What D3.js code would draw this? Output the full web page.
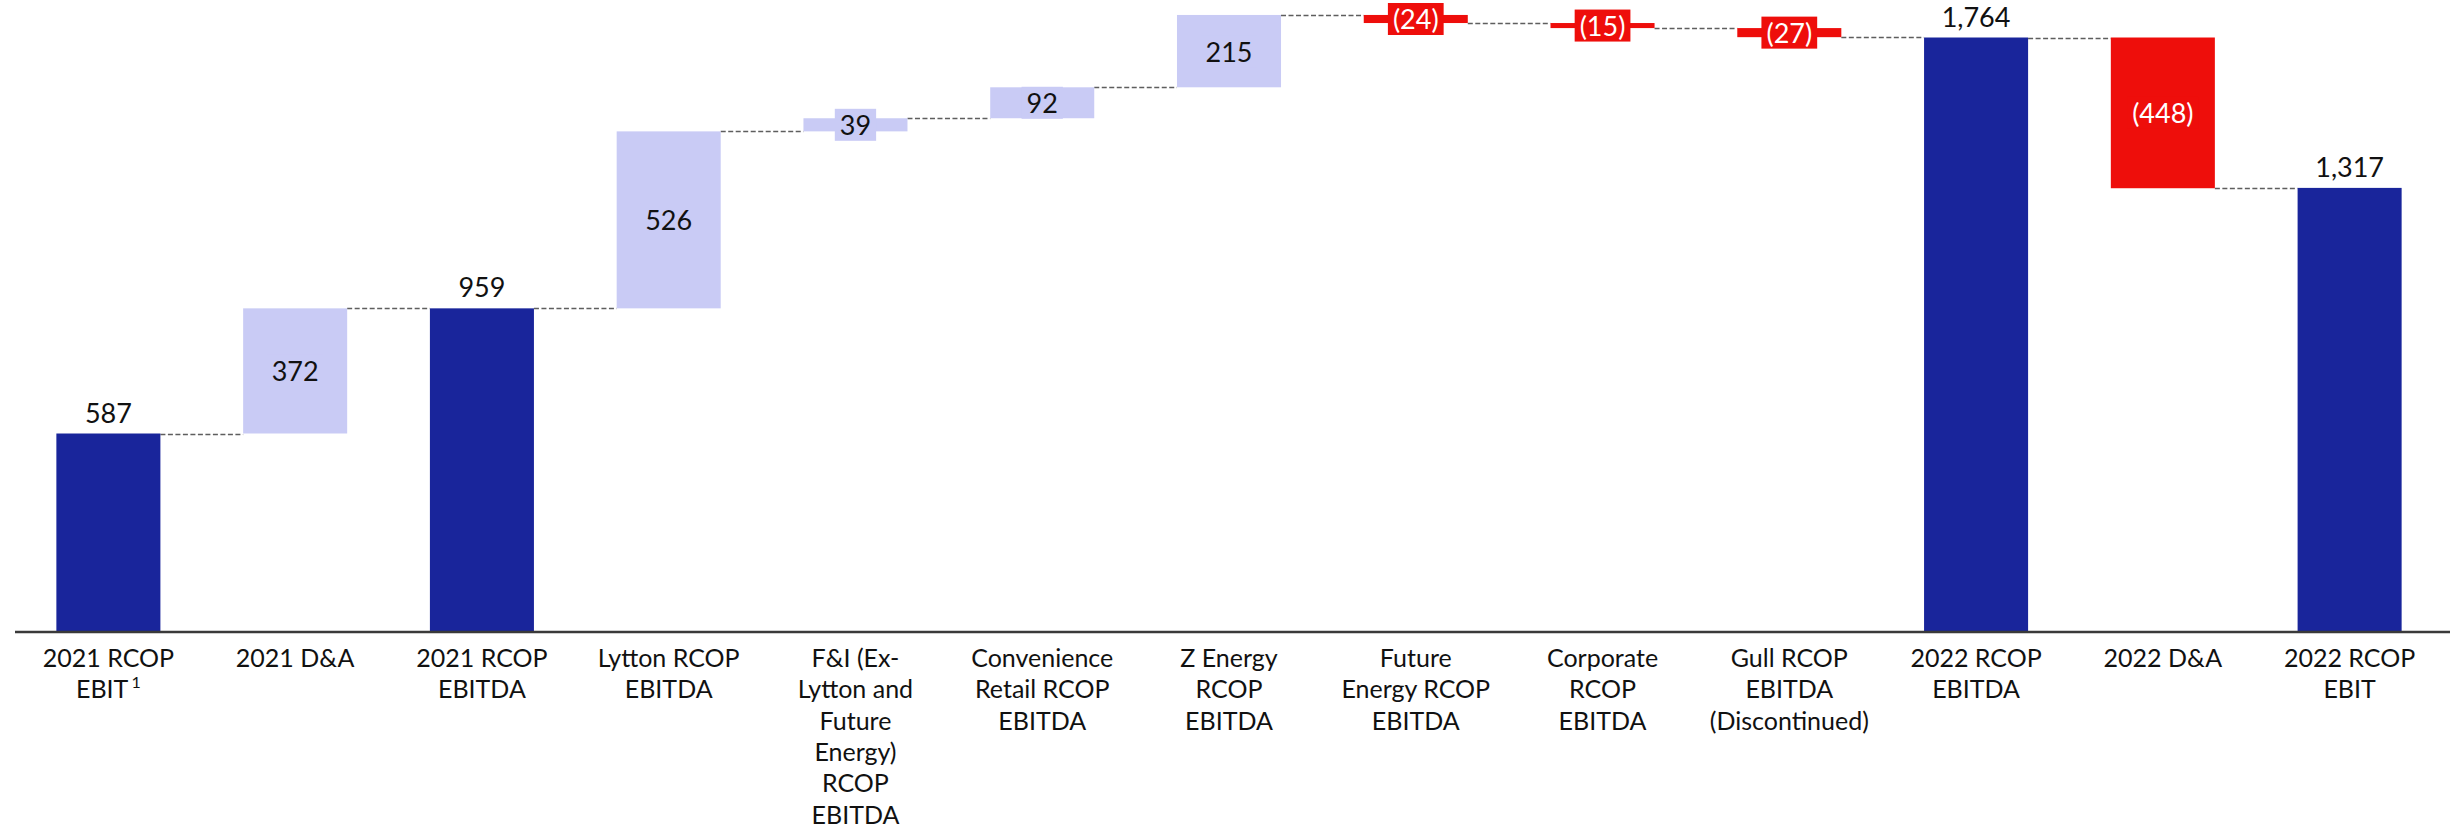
<!DOCTYPE html>
<html>
<head>
<meta charset="utf-8">
<script src="https://cdn.jsdelivr.net/npm/d3@7"></script>
<style>
  html, body { margin: 0; padding: 0; background: #ffffff; }
  svg { display: block; }
  text { font-family: Lato, "Open Sans", sans-serif; }
</style>
</head>
<body>
<svg id="chart" width="2450" height="832"></svg>
<script>
// Bridge from 2021 RCOP EBIT to 2022 RCOP EBIT (NZ$m)
const categories = [
  "2021 RCOP EBIT", "2021 D&A", "2021 RCOP EBITDA", "Lytton RCOP EBITDA",
  "F&I (Ex-Lytton and Future Energy) RCOP EBITDA", "Convenience Retail RCOP EBITDA",
  "Z Energy RCOP EBITDA", "Future Energy RCOP EBITDA", "Corporate RCOP EBITDA",
  "Gull RCOP EBITDA (Discontinued)", "2022 RCOP EBITDA", "2022 D&A", "2022 RCOP EBIT"
];
// Wrapped tick label lines, one array per category
const tickLines = [
  ["2021 RCOP", "EBIT"],
  ["2021 D&A"],
  ["2021 RCOP", "EBITDA"],
  ["Lytton RCOP", "EBITDA"],
  ["F&I (Ex-", "Lytton and", "Future", "Energy)", "RCOP", "EBITDA"],
  ["Convenience", "Retail RCOP", "EBITDA"],
  ["Z Energy", "RCOP", "EBITDA"],
  ["Future", "Energy RCOP", "EBITDA"],
  ["Corporate", "RCOP", "EBITDA"],
  ["Gull RCOP", "EBITDA", "(Discontinued)"],
  ["2022 RCOP", "EBITDA"],
  ["2022 D&A"],
  ["2022 RCOP", "EBIT"]
];
const footnotes = ["1", "", "", "", "", "", "", "", "", "", "", "", ""];
const values = [587, 372, 959, 526, 39, 92, 215, -24, -15, -27, 1764, -448, 1317];
const isTotal = [true, false, true, false, false, false, false, false, false, false, true, false, true];

const COLORS = { total: "#19259b", up: "#c9cbf5", down: "#ee0e0b" };

// Build waterfall segments: totals stand on zero, deltas float from the running level
let level = 0;
const bars = categories.map((c, i) => {
  const v = values[i];
  let y0, y1, kind;
  if (isTotal[i]) { y0 = 0; y1 = v; level = v; kind = "total"; }
  else { y0 = level; y1 = level + v; level = y1; kind = v >= 0 ? "up" : "down"; }
  return { cat: c, i, v, y0, y1, kind, end: level };
});

const svg = d3.select("#chart");
const baseY = 631;
const maxLevel = d3.max(bars, d => Math.max(d.y0, d.y1));

const x = d3.scaleBand()
  .domain(categories)
  .range([15, 2443])
  .paddingInner(0.443)
  .paddingOuter(0.2215);

const y = d3.scaleLinear()
  .domain([0, maxLevel])
  .range([baseY, baseY - maxLevel * 0.33645]);

const fmt = d3.format(",");
const labelText = d => d.v < 0 ? "(" + fmt(-d.v) + ")" : fmt(d.v);

// Dashed connectors between consecutive bars at the running level
const connectors = bars.slice(0, -1).map((d, k) => ({
  x1: x(d.cat) + x.bandwidth(), x2: x(bars[k + 1].cat), lvl: d.end
}));
svg.append("g").selectAll("line").data(connectors).join("line")
  .attr("x1", d => d.x1).attr("x2", d => d.x2)
  .attr("y1", d => Math.round(y(d.lvl)) + 0.5).attr("y2", d => Math.round(y(d.lvl)) + 0.5)
  .attr("stroke", "#5e5e5e").attr("stroke-width", 1.5)
  .attr("stroke-dasharray", "5,2.5");

// Bars
svg.append("g").selectAll("rect").data(bars).join("rect")
  .attr("x", d => x(d.cat))
  .attr("width", x.bandwidth())
  .attr("y", d => y(Math.max(d.y0, d.y1)))
  .attr("height", d => Math.abs(y(d.y0) - y(d.y1)))
  .attr("fill", d => COLORS[d.kind]);

// Value labels: totals above the bar, deltas centred on the bar with a matching backing box
const labels = svg.append("g");
bars.forEach(d => {
  const cx = x(d.cat) + x.bandwidth() / 2;
  if (d.kind === "total") {
    labels.append("text")
      .attr("x", cx).attr("y", y(d.y1) - 11)
      .attr("text-anchor", "middle")
      .attr("font-size", 27).attr("fill", "#111")
      .text(labelText(d));
  } else {
    const cy = (y(d.y0) + y(d.y1)) / 2;
    const g = labels.append("g");
    const t = g.append("text")
      .attr("x", cx).attr("y", cy)
      .attr("text-anchor", "middle").attr("dominant-baseline", "central")
      .attr("font-size", 27)
      .attr("fill", d.kind === "down" ? "#ffffff" : "#111")
      .text(labelText(d));
    const bb = t.node().getBBox();
    g.insert("rect", "text")
      .attr("x", bb.x - 5).attr("width", bb.width + 10)
      .attr("y", cy - 16).attr("height", 32)
      .attr("fill", COLORS[d.kind]);
  }
});

// Baseline axis
svg.append("line")
  .attr("x1", 15).attr("x2", 2450)
  .attr("y1", baseY + 1).attr("y2", baseY + 1)
  .attr("stroke", "#3a3a3a").attr("stroke-width", 2.5);

// Category labels
const ticks = svg.append("g");
categories.forEach((c, i) => {
  const cx = x(c) + x.bandwidth() / 2;
  const t = ticks.append("text")
    .attr("x", cx).attr("y", 667)
    .attr("text-anchor", "middle")
    .attr("font-size", 25).attr("fill", "#111");
  tickLines[i].forEach((line, k) => {
    const ts = t.append("tspan").attr("x", cx).attr("dy", k === 0 ? 0 : 31.3).text(line);
    if (k === tickLines[i].length - 1 && footnotes[i]) {
      ts.text(line + "\u2009");
      t.append("tspan").attr("font-size", 16).attr("dy", -10).text(footnotes[i]);
    }
  });
});
</script>
</body>
</html>
